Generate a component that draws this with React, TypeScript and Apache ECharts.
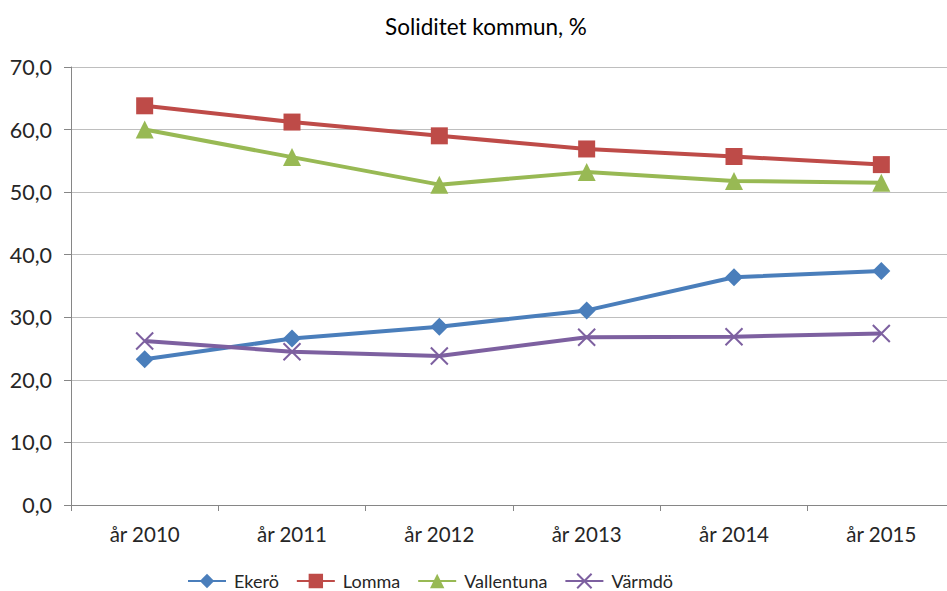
import React, { useEffect, useRef } from "react";
import * as echarts from "echarts";

const categories = ["år 2010", "år 2011", "år 2012", "år 2013", "år 2014", "år 2015"];
const ekero = [23.3, 26.6, 28.5, 31.1, 36.4, 37.4];
const lomma = [63.8, 61.2, 59.0, 56.9, 55.7, 54.4];
const vallentuna = [60.0, 55.6, 51.2, 53.2, 51.8, 51.5];
const varmdo = [26.2, 24.5, 23.8, 26.8, 26.9, 27.4];
const yTicks = { min: 0, max: 70, interval: 10 };
const title = "Soliditet kommun, %";

const FONT = "Lato";
const TXT = "#262626";

export default function App() {
  const ref = useRef<HTMLDivElement>(null);
  useEffect(() => {
    if (!ref.current) return;
    const chart = echarts.init(ref.current, undefined, { renderer: "svg" });
    const mk = (name: string, data: number[], color: string, symbol: string, size: number, extra: any = {}) => ({
      name,
      type: "line",
      data,
      symbol,
      symbolSize: size,
      showSymbol: true,
      lineStyle: { color, width: 4 },
      itemStyle: { color, borderColor: color, borderWidth: 0, ...extra },
      emphasis: { disabled: true },
    });
    chart.setOption({
      animation: false,
      textStyle: { fontFamily: FONT },
      graphic: [
        {
          type: "text",
          x: 486,
          y: 26,
          style: {
            text: title,
            font: `22.5px ${FONT}`,
            fill: "#000",
            textAlign: "center",
            textVerticalAlign: "middle",
          },
        },
      ],
      legend: {
        top: 567,
        left: 182,
        itemWidth: 38,
        itemHeight: 18,
        itemGap: 17,
        textStyle: { fontSize: 18, color: TXT, fontFamily: FONT, padding: [0, 0, 0, 3] },
        data: ["Ekerö", "Lomma", "Vallentuna", "Värmdö"],
      },
      grid: { left: 71, top: 67, width: 884, height: 438 },
      xAxis: {
        type: "category",
        data: categories,
        boundaryGap: true,
        axisLine: { lineStyle: { color: "#868686", width: 1 } },
        axisTick: { show: true, length: 6, lineStyle: { color: "#868686" } },
        axisLabel: { fontSize: 20.5, color: TXT, margin: 18, fontFamily: FONT },
      },
      yAxis: {
        type: "value",
        min: yTicks.min,
        max: yTicks.max,
        interval: yTicks.interval,
        axisLine: { show: true, lineStyle: { color: "#868686", width: 1 } },
        axisTick: { show: true, length: 7, lineStyle: { color: "#868686" } },
        splitLine: { lineStyle: { color: "#BEBEBE", width: 1 } },
        axisLabel: {
          fontSize: 21.5,
          color: TXT,
          margin: 19,
          fontFamily: FONT,
          formatter: (v: number) => v.toFixed(1).replace(".", ","),
        },
      },
      series: [
        mk("Ekerö", ekero, "#4A7EBB", "diamond", 18),
        mk("Lomma", lomma, "#BE4B48", "rect", 17),
        mk("Vallentuna", vallentuna, "#98B954", "triangle", 18),
        mk("Värmdö", varmdo, "#7D60A0", "path://M0,0L10,10M10,0L0,10", 17, {
          color: "#7D60A0",
          borderColor: "#7D60A0",
          borderWidth: 2,
        }),
      ],
    });
    return () => chart.dispose();
  }, []);
  return (
    <div
      style={{ position: "fixed", left: 0, top: 0, width: 947, height: 591, overflow: "hidden", background: "#fff" }}
    >
      <div ref={ref} style={{ width: 962, height: 591 }} />
    </div>
  );
}
